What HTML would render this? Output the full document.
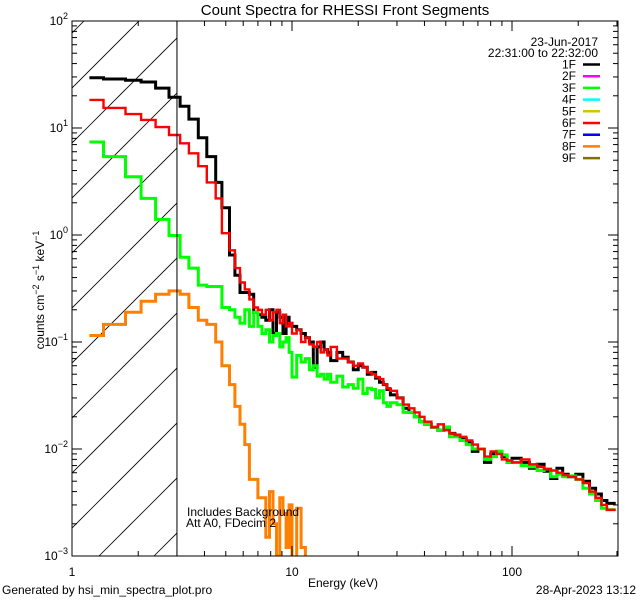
<!DOCTYPE html>
<html><head><meta charset="utf-8"><style>
body{margin:0;background:#fff}
svg{display:block;font-family:"Liberation Sans",sans-serif}
</style></head><body>
<svg id="chart" width="640" height="600" viewBox="0 0 640 600" xmlns="http://www.w3.org/2000/svg">
<rect width="640" height="600" fill="#fff"/>
<text x="345" y="15" font-size="15" text-anchor="middle">Count Spectra for RHESSI Front Segments</text>
<g id="hatch"></g>
<g id="series"></g>
<g id="axes"></g>
<text x="343" y="587" font-size="12" text-anchor="middle">Energy (keV)</text>
<text transform="translate(44,290) rotate(-90)" font-size="12" text-anchor="middle">counts cm<tspan baseline-shift="super" font-size="9">−2</tspan> s<tspan baseline-shift="super" font-size="9">−1</tspan> keV<tspan baseline-shift="super" font-size="9">−1</tspan></text>
<text x="187" y="516" font-size="12">Includes Background</text>
<text x="186" y="527" font-size="12">Att A0, FDecim 2</text>
<text x="598" y="46" font-size="12" text-anchor="end">23-Jun-2017</text>
<text x="598" y="57" font-size="12" text-anchor="end">22:31:00 to 22:32:00</text>
<g id="legend"></g>
<text x="2" y="594" font-size="12">Generated by hsi_min_spectra_plot.pro</text>
<text x="636" y="594" font-size="12" text-anchor="end">28-Apr-2023 13:12</text>
</svg>
<script>
const edges=[1.2,1.39,1.75,2.06,2.4,2.76,3.1,3.4,3.75,4.1,4.5,4.8,5.2,5.5,5.8,6.1,6.4,6.7,7.0,7.3,7.6,7.9,8.2,8.5,8.8,9.1,9.4,9.7,10,10.5,11,11.5,12,12.5,13,13.5,14,14.5,15,16,17,18,19,20,21,22,23,24,25,26,27,28,30,32,34,36,38,40,43,46,49,52,55,58,62,66,70,75,80,85,90,95,100,110,120,130,140,150,160,170,180,195,210,225,240,255,270,296];
const seg1F=[29.5,28.7,28,26.9,23.6,19.4,16,12.1,8.1,5.4,3.1,1.8,
0.65,0.42,0.29,0.29,0.28,0.19,0.18,0.17,0.16,0.2,0.12,0.19,0.17,0.12,0.17,0.15,
0.14,0.13,0.12,0.11,0.1,0.058,0.09,0.1,0.085,0.08,
0.067,0.08,0.072,0.065,0.055,0.06,0.058,0.05,0.052,0.046,0.042,0.04,0.036,
0.032,0.03,0.024,0.022,0.02,0.018,
0.017,0.016,0.015,0.016,0.014,0.0135,
0.0125,0.0115,0.0095,
0.01,0.0075,0.009,0.0095,0.0085,0.0075,
0.0082,0.0075,0.0066,0.0072,0.0062,0.0053,0.0066,0.0058,
0.0055,0.0058,0.005,0.0043,0.0038,0.0033,0.0031];
const seg3F=[7.4,5.4,3.5,2.2,1.4,0.99,0.62,0.49,0.34,0.33,0.33,0.21,
0.2,0.17,0.15,0.2,0.14,0.19,0.14,0.12,0.13,0.1,0.115,0.12,0.09,0.1,0.11,0.08,
0.047,0.075,0.065,0.07,0.055,0.06,0.048,0.05,0.045,0.05,
0.042,0.048,0.038,0.04,0.037,0.045,0.033,0.037,0.036,0.03,0.035,0.027,0.025,
0.027,0.026,0.022,0.022,0.02,0.018,
0.017,0.016,0.015,0.016,0.013,0.013,
0.012,0.011,0.01,
0.01,0.008,0.0085,0.0095,0.0088,0.0075,
0.0075,0.007,0.0068,0.0063,0.0065,0.0055,0.0058,0.0055,
0.0056,0.0052,0.0043,0.0038,0.0033,0.0028,0.0027];
const seg6F=[18.3,15.4,13.5,11.9,10.2,8.6,7.2,5.8,4.4,3.1,2.2,1.04,
0.72,0.49,0.36,0.31,0.25,0.21,0.2,0.18,0.2,0.16,0.19,0.2,0.15,0.18,0.14,0.15,
0.12,0.13,0.1,0.11,0.095,0.09,0.1,0.08,0.085,0.075,
0.09,0.07,0.07,0.065,0.06,0.063,0.058,0.052,0.05,0.047,0.045,0.04,0.037,
0.035,0.03,0.026,0.024,0.022,0.02,
0.018,0.016,0.017,0.015,0.014,0.0135,
0.013,0.012,0.011,
0.01,0.0085,0.0095,0.009,0.008,0.0078,
0.0075,0.008,0.0072,0.0068,0.0065,0.0063,0.006,0.0057,
0.0055,0.0052,0.0048,0.004,0.0035,0.003,0.0027];
const seg8F=[0.115,0.146,0.19,0.24,0.28,0.30,0.28,0.21,0.16,0.146,0.1,0.06,
0.04,0.025,0.017,0.011,0.0052,0.0052,0.0035,0.0035,0.0015,0.004,0.002,0.001,0.0035,0.0025,0.0012,0.003,
0.0008,0.0028,0.0012,0.0008,0.0009,0.0005,0.0005,0.0005,0.0005,0.0005,
0.0005,0.0005,0.0005,0.0005,0.0005,0.0005,0.0005,0.0005,0.0005,0.0005,0.0005,0.0005,0.0005,
0.0005,0.0005,0.0005,0.0005,0.0005,0.0005,0.0005,0.0005,0.0005,0.0005,0.0005,0.0005,
0.0005,0.0005,0.0005,0.0005,0.0005,0.0005,0.0005,0.0005,0.0005,
0.0005,0.0005,0.0005,0.0005,0.0005,0.0005,0.0005,0.0005,
0.0005,0.0005,0.0005,0.0005,0.0005,0.0005,0.0005];
const legendLabels=["1F","2F","3F","4F","5F","6F","7F","8F","9F"];
const legendColors=["#000000","#ff00ff","#00ff00","#00ffff","#d4c400","#ff0000","#0000ff","#ff8000","#807000"];
const yTickExps=[-3,-2,-1,0,1,2];
const xTickVals=[1,10,100];

const NS="http://www.w3.org/2000/svg";
const L=72,R=618,T=21,B=556;
const xScale=e=>L+220*Math.log10(e);
const yScale=v=>B-(B-T)*(Math.log10(v)+3)/5;
function mk(tag,attrs,parent){const el=document.createElementNS(NS,tag);for(const k in attrs)el.setAttribute(k,attrs[k]);parent.appendChild(el);return el;}

const defs=mk('defs',{},document.getElementById('chart'));
const cp=mk('clipPath',{id:'plotclip'},defs);
mk('rect',{x:L,y:T,width:R-L,height:B-T},cp);
const cp2=mk('clipPath',{id:'hatchclip'},defs);
mk('rect',{x:L,y:T,width:xScale(3)-L,height:B-T},cp2);

// hatch
const hg=document.getElementById('hatch');
hg.setAttribute('clip-path','url(#hatchclip)');
for(let c=655-55*12;c<=900;c+=55){
  const ln=mk('line',{x1:c-B,y1:B,x2:c-T,y2:T,stroke:'#000','stroke-width':0.8},hg);
  
  
}
const vl=mk('line',{x1:xScale(3),y1:T,x2:xScale(3),y2:B,stroke:'#000','stroke-width':1},hg.parentNode);



// series
const sg=document.getElementById('series');
sg.setAttribute('clip-path','url(#plotclip)');
function stepPath(vals){
  let d='';
  for(let i=0;i<vals.length;i++){
    const x0=xScale(edges[i]),x1=xScale(edges[i+1]),y=yScale(vals[i]);
    d+=(i===0?'M':'L')+x0.toFixed(1)+','+y.toFixed(1)+'L'+x1.toFixed(1)+','+y.toFixed(1);
  }
  return d;
}
const s1=mk('path',{d:stepPath(seg1F),fill:'none',stroke:'#000','stroke-width':3},sg);


const s3=mk('path',{d:stepPath(seg3F),fill:'none',stroke:'#00ff00','stroke-width':3},sg);


const s6=mk('path',{d:stepPath(seg6F),fill:'none',stroke:'#ff0000','stroke-width':2.4},sg);


const s8=mk('path',{d:stepPath(seg8F),fill:'none',stroke:'#ff8000','stroke-width':3},sg);



// axes
const ag=document.getElementById('axes');
const frame=mk('rect',{x:L,y:T,width:R-L,height:B-T,fill:'none',stroke:'#000','stroke-width':1},ag);


for(const ex of yTickExps){
  for(let m=1;m<10;m++){
    const v=m*Math.pow(10,ex); if(v>100.001) break;
    const y=yScale(v),len=m===1?10:5;
    mk('line',{x1:L,y1:y,x2:L+len,y2:y,stroke:'#000'},ag);
    mk('line',{x1:R,y1:y,x2:R-len,y2:y,stroke:'#000'},ag);
  }
  const t=mk('text',{x:L-4,y:yScale(Math.pow(10,ex))+4,'font-size':12,'text-anchor':'end'},ag);
  
  
  t.innerHTML='10<tspan dy="-6" font-size="9">'+(ex<0?'−'+(-ex):ex)+'</tspan>';
}
for(let ex=0;ex<3;ex++){
  for(let m=1;m<10;m++){
    const e=m*Math.pow(10,ex); const x=xScale(e); if(x>R) break;
    const len=m===1?10:5;
    mk('line',{x1:x,y1:B,x2:x,y2:B-len,stroke:'#000'},ag);
    mk('line',{x1:x,y1:T,x2:x,y2:T+len,stroke:'#000'},ag);
  }
}
for(const v of xTickVals){
  const t=mk('text',{x:xScale(v),y:576,'font-size':12,'text-anchor':'middle'},ag);
  
  
  t.textContent=v;
}

// legend
const lg=document.getElementById('legend');
legendLabels.forEach((lab,i)=>{
  const y=64.5+11.7*i;
  const t=mk('text',{x:576,y:y+4,'font-size':12,'text-anchor':'end'},lg);
  
  
  t.textContent=lab;
  const ln=mk('line',{x1:583,y1:y,x2:600,y2:y,stroke:legendColors[i],'stroke-width':2.5},lg);
  
  
});
</script>
</body></html>
